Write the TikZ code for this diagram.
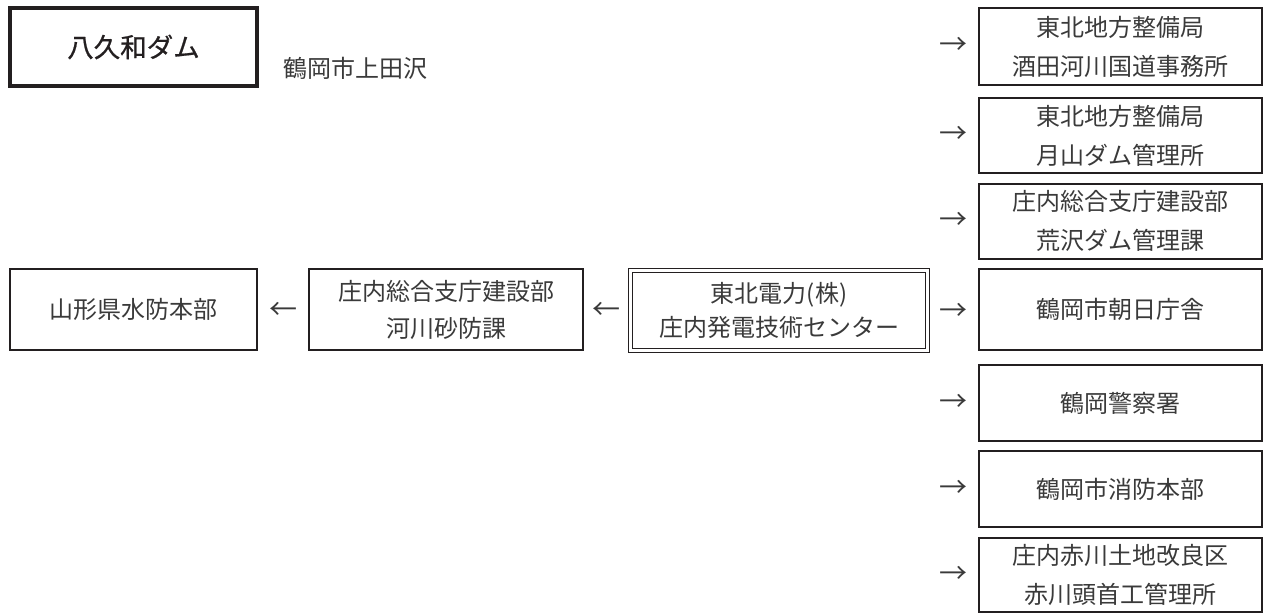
\documentclass[tikz,border=0pt]{standalone}
\usepackage{fontspec}
\setmainfont{Noto Sans CJK JP}
\newfontfamily\titlefont[FakeBold=0.7]{Noto Sans CJK JP}
\definecolor{linec}{HTML}{231F20}
\definecolor{txt}{HTML}{3A3A3A}
\begin{document}
\begin{tikzpicture}[x=1pt,y=-1pt,
  lbox/.style={draw=linec,line width=2pt,inner sep=0pt,align=center,text=txt,
    font=\fontsize{24}{37}\selectfont},
  rbox/.style={lbox,minimum width=283pt,font=\fontsize{24}{39}\selectfont},
  titlebox/.style={draw=linec,line width=3.5pt,inner sep=0pt,align=center,text=linec,
    font=\titlefont\fontsize{26.5}{30}\selectfont},
  dbox/.style={draw=linec,line width=1.6pt,double,double distance=2.2pt,inner sep=0pt,
    align=center,text=txt,font=\fontsize{24}{34}\selectfont},
  arr/.style={text=txt,inner sep=0pt,font=\fontsize{28}{28}\selectfont},
  plain/.style={text=txt,inner sep=0pt,font=\fontsize{24}{24}\selectfont}]
\useasboundingbox (0,0) rectangle (1265,613);
% title
\node[titlebox,minimum width=247pt,minimum height=78pt] (dam) at (133.5,47) {八久和ダム};
\node[plain] (loc) at (355,68) {鶴岡市上田沢};
% left chain
\node[lbox,minimum width=247pt,minimum height=81pt] (ken) at (133.5,309.5) {山形県水防本部};
\node[lbox,minimum width=274pt,minimum height=81pt] (kasen) at (446,309.5) {庄内総合支庁建設部\\河川砂防課};
\node[dbox,minimum width=297pt,minimum height=80pt] (toh) at (779,310.5) {東北電力(株)\\庄内発電技術センター};
\node[arr] (l1) at (283,311) {←};
\node[arr] (l2) at (606,311) {←};
% right column
\node[rbox,minimum height=77pt] (r1) at (1120.5,46.5) {東北地方整備局\\酒田河川国道事務所};
\node[rbox,minimum height=75pt] (r2) at (1120.5,135.5) {東北地方整備局\\月山ダム管理所};
\node[rbox,minimum height=75pt] (r3) at (1120.5,221) {庄内総合支庁建設部\\荒沢ダム管理課};
\node[rbox,minimum height=81pt] (r4) at (1120.5,309.5) {鶴岡市朝日庁舎};
\node[rbox,minimum height=76pt] (r5) at (1120.5,403) {鶴岡警察署};
\node[rbox,minimum height=76pt] (r6) at (1120.5,489) {鶴岡市消防本部};
\node[rbox,minimum height=74pt] (r7) at (1120.5,574.5) {庄内赤川土地改良区\\赤川頭首工管理所};
\foreach \i/\y in {1/46,2/135,3/221,4/312,5/403,6/489,7/575}
  \node[arr] (a\i) at (953,\y) {→};
\end{tikzpicture}
\end{document}
